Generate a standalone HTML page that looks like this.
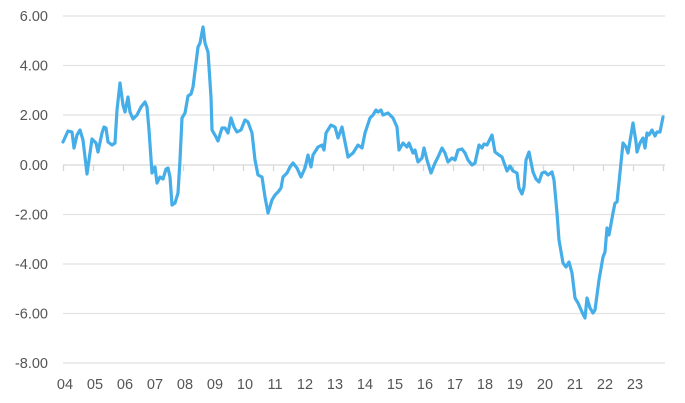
<!DOCTYPE html>
<html><head><meta charset="utf-8"><style>
html,body{margin:0;padding:0;background:#fff;}
svg{display:block;}
text{font-family:"Liberation Sans",sans-serif;font-size:14.5px;fill:#555;}
</style></head><body>
<svg width="685" height="403" viewBox="0 0 685 403" xmlns="http://www.w3.org/2000/svg">
<g stroke="#e2e2e2" stroke-width="1.3">
<line x1="63" x2="665" y1="16" y2="16"/>
<line x1="63" x2="665" y1="65.5" y2="65.5"/>
<line x1="63" x2="665" y1="115" y2="115"/>
<line x1="63" x2="665" y1="214.5" y2="214.5"/>
<line x1="63" x2="665" y1="264" y2="264"/>
<line x1="63" x2="665" y1="313.5" y2="313.5"/>
<line x1="63" x2="665" y1="363" y2="363"/>
</g>
<g stroke="#d8d8d8" stroke-width="1.3">
<line x1="63" x2="665" y1="165" y2="165"/>
<line x1="63.5" x2="63.5" y1="165" y2="171"/><line x1="93.5" x2="93.5" y1="165" y2="171"/><line x1="123.5" x2="123.5" y1="165" y2="171"/><line x1="153.5" x2="153.5" y1="165" y2="171"/><line x1="183.5" x2="183.5" y1="165" y2="171"/><line x1="213.5" x2="213.5" y1="165" y2="171"/><line x1="243.5" x2="243.5" y1="165" y2="171"/><line x1="273.5" x2="273.5" y1="165" y2="171"/><line x1="303.5" x2="303.5" y1="165" y2="171"/><line x1="333.5" x2="333.5" y1="165" y2="171"/><line x1="363.5" x2="363.5" y1="165" y2="171"/><line x1="393.5" x2="393.5" y1="165" y2="171"/><line x1="423.5" x2="423.5" y1="165" y2="171"/><line x1="453.5" x2="453.5" y1="165" y2="171"/><line x1="483.5" x2="483.5" y1="165" y2="171"/><line x1="513.5" x2="513.5" y1="165" y2="171"/><line x1="543.5" x2="543.5" y1="165" y2="171"/><line x1="573.5" x2="573.5" y1="165" y2="171"/><line x1="603.5" x2="603.5" y1="165" y2="171"/><line x1="633.5" x2="633.5" y1="165" y2="171"/><line x1="663.5" x2="663.5" y1="165" y2="171"/>
</g>
<g text-anchor="end">
<text x="48" y="21">6.00</text>
<text x="48" y="70.5">4.00</text>
<text x="48" y="120">2.00</text>
<text x="48" y="170">0.00</text>
<text x="48" y="219.5">-2.00</text>
<text x="48" y="269">-4.00</text>
<text x="48" y="318.5">-6.00</text>
<text x="48" y="368">-8.00</text>
</g>
<g text-anchor="middle">
<text x="65" y="389">04</text><text x="95" y="389">05</text><text x="125" y="389">06</text><text x="155" y="389">07</text><text x="185" y="389">08</text><text x="215" y="389">09</text><text x="245" y="389">10</text><text x="275" y="389">11</text><text x="305" y="389">12</text><text x="335" y="389">13</text><text x="365" y="389">14</text><text x="395" y="389">15</text><text x="425" y="389">16</text><text x="455" y="389">17</text><text x="485" y="389">18</text><text x="515" y="389">19</text><text x="545" y="389">20</text><text x="575" y="389">21</text><text x="605" y="389">22</text><text x="635" y="389">23</text>
</g>
<polyline fill="none" stroke="#45aee8" stroke-width="3.2" stroke-linejoin="round" stroke-linecap="round" points="
63,142 68,131 72,132 74,148 77,135 80,130 83,140 87,174 92,139 96,143 98,152 102,133 104,127 106,128 108,142 112,145 115,143 117,110 120,83 123,105 125,112 128,97 130,112 133,119 137,115 141,107 145,102 147,107 149,130 152,173 155,167 157,183 160,177 163,179 166,169 168,168 170,177 172,205 175,203 178,193 180,160 182,118 185,113 188,96 191,94 193,87 198,47 200,43 203,27 205,43 208,52 211,97 212,130 216,137 218,141 222,128 225,128 228,133 231,118 234,127 237,132 241,130 245,120 248,122 252,133 255,160
258,175 262,177 265,197 268,213 272,200 275,195 278,192 281,188 283,177 287,173 290,167 293,163 297,168 301,177 305,168 308,155 311,167 313,155 318,147 322,145 324,150 326,133 331,125 335,127 338,138 342,127 348,157 353,153 358,145 362,148 365,133 370,118 373,115 376,110 378,112 381,110 383,115 388,113 393,118 397,127 399,150 403,143 407,147 409,143 413,153 415,150 418,162 422,158 424,148 427,160 431,173 435,163 438,157 442,148 445,153 448,162 452,158 455,160 458,150 462,149 465,153 468,160
472,165 475,163 479,145 482,148 484,144 487,145 492,135 495,152 499,155 502,157 507,171 510,166 513,171 517,173 519,188 522,194 524,187 526,160 529,152 533,172 536,179 539,182 542,173 545,172 548,175 552,172 554,180 557,213 559,240 563,263 566,267 569,262 572,273 575,298 578,303 582,312 585,318 587,298 590,308 593,313 595,310 599,280 603,257 605,252 607,228 609,235 613,213 615,203 617,202 623,143 626,147 628,153 633,123 636,142 637,152 640,143 643,138 645,148 647,133 649,135 652,130 655,136 657,132 660,132 663,117"/>
</svg>
</body></html>
